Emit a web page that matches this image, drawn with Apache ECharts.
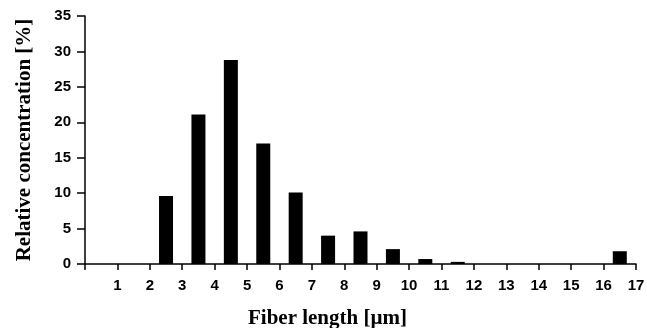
<!DOCTYPE html>
<html>
<head>
<meta charset="utf-8">
<script src="https://cdn.jsdelivr.net/npm/echarts@6/dist/echarts.min.js"></script>
<style>
html, body { margin: 0; padding: 0; background: #fff; }
#chart { width: 647px; height: 328px; }
</style>
</head>
<body>
<div id="chart"></div>
<script>
// bin centres (µm) and relative concentration (%)
const binCenters = [0.5, 1.5, 2.5, 3.5, 4.5, 5.5, 6.5, 7.5, 8.5, 9.5, 10.5, 11.5, 12.5, 13.5, 14.5, 15.5, 16.5];
const concentrations = [0, 0, 9.6, 21.1, 28.8, 17.0, 10.1, 4.0, 4.6, 2.1, 0.7, 0.3, 0, 0, 0, 0, 1.8];

const tickFont = {
	color: "#000",
	fontFamily: "'Liberation Sans', Arial, sans-serif",
	fontWeight: "bold",
	fontSize: 15
};

const titleFont = {
	color: "#000",
	fontFamily: "'Liberation Serif', 'Times New Roman', serif",
	fontWeight: "bold",
	fontSize: 21
};

const axisLine = { lineStyle: { color: "#000", width: 1.5 } };

const chart = echarts.init(document.getElementById("chart"), null, { renderer: "canvas" });
chart.setOption({
	animation: false,
	grid: { left: 85, right: 11, top: 16, bottom: 64, outerBoundsMode: "none" },
	xAxis: {
		type: "value",
		min: 0,
		max: 17,
		interval: 1,
		name: "Fiber length [µm]",
		nameLocation: "middle",
		nameGap: 44,
		nameTextStyle: { ...titleFont, padding: [0, 66, 0, 0] },
		axisLine,
		axisTick: { show: true, length: 6, lineStyle: { color: "#000", width: 1.5 } },
		axisLabel: { ...tickFont, margin: 14, formatter: v => (v === 0 ? "" : String(v)) },
		splitLine: { show: false }
	},
	yAxis: {
		type: "value",
		min: 0,
		max: 35,
		interval: 5,
		name: "Relative concentration [%]",
		nameLocation: "middle",
		nameGap: 50,
		nameTextStyle: titleFont,
		axisLine: { show: true, ...axisLine },
		axisTick: { show: true, length: 8, lineStyle: { color: "#000", width: 1.5 } },
		axisLabel: { ...tickFont, margin: 14 },
		splitLine: { show: false }
	},
	series: [{
		type: "bar",
		barWidth: 14,
		itemStyle: { color: "#000" },
		data: binCenters.map((x, i) => [x, concentrations[i]])
	}]
});
</script>
</body>
</html>
